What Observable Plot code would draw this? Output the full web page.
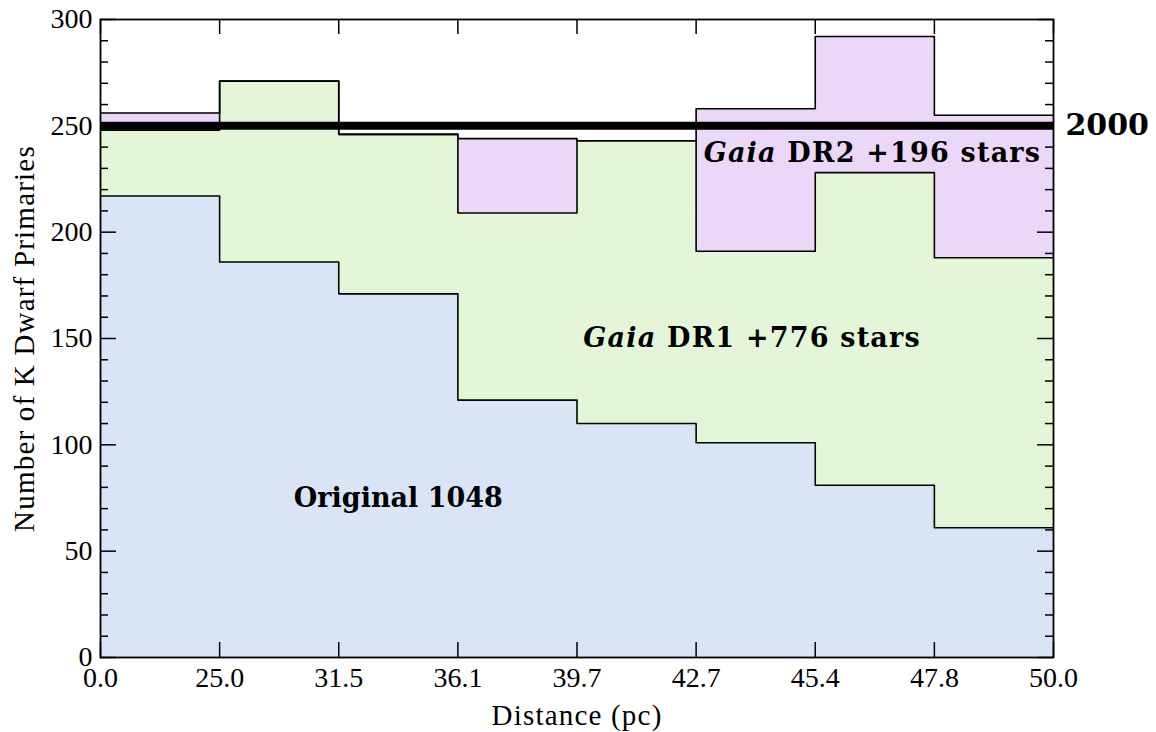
<!DOCTYPE html>
<html>
<head>
<meta charset="utf-8">
<script src="https://cdn.jsdelivr.net/npm/d3@7"></script>
<script src="https://cdn.jsdelivr.net/npm/@observablehq/plot@0.6"></script>
<style>
  body { margin: 0; background: #fff; }
  #chart svg { display: block; }
</style>
</head>
<body>
<div id="chart"></div>
<script>
// Distance bin edges (pc); bins are drawn with equal widths
const edgeLabels = ["0.0", "25.0", "31.5", "36.1", "39.7", "42.7", "45.4", "47.8", "50.0"];

// K dwarf primaries per distance bin
const original = [217, 186, 171, 121, 110, 101, 81, 61];
const gaiaDR1  = [31, 85, 75, 88, 133, 90, 147, 127];
const gaiaDR2  = [8, 0, 0, 35, 0, 67, 64, 67];

// Goal sample size (spread evenly over the bins)
const targetTotal = 2000;

const yTicks = [0, 50, 100, 150, 200, 250, 300];
const yMinorStep = 10;

const xTitle = "Distance (pc)";
const yTitle = "Number of K Dwarf Primaries";
const annotations = [
  {text: "Original 1048", x: 2.5, y: 75},
  {text: "Gaia DR1 +776 stars", x: 5.47, y: 150},
  {text: "Gaia DR2 +196 stars", x: 6.48, y: 237}
];

const nBins = original.length;
const cumDR1 = original.map((v, i) => v + gaiaDR1[i]);
const cumDR2 = cumDR1.map((v, i) => v + gaiaDR2[i]);
const zeros = original.map(() => 0);

// Step outline points for a layer between lower and upper (step-after curve)
function steps(lower, upper) {
  const pts = upper.map((u, i) => ({x: i, y1: lower[i], y2: u}));
  pts.push({x: upper.length, y1: lower[lower.length - 1], y2: upper[upper.length - 1]});
  return pts;
}

// Pick the first installed font from a list (canvas width test)
function firstInstalled(candidates) {
  const ctx = document.createElement("canvas").getContext("2d");
  const sample = "Number of K Dwarf 0123456789";
  for (const name of candidates) {
    for (const base of ["monospace", "sans-serif"]) {
      ctx.font = `40px ${base}`;
      const w0 = ctx.measureText(sample).width;
      ctx.font = `40px "${name}", ${base}`;
      if (Math.abs(ctx.measureText(sample).width - w0) > 0.5) return name;
    }
  }
  return null;
}

const timesLike = firstInstalled(["Liberation Serif", "Times New Roman", "Tinos", "Nimbus Roman", "FreeSerif", "Times"]);
const serif = timesLike ? `"${timesLike}", serif` : `"DejaVu Serif", serif`;
const tickSize = timesLike ? 28 : 24;
const titleSize = timesLike ? 29 : 25;
const titleSpacing = timesLike ? "1.2px" : "0px";
const boldSerif = `"DejaVu Serif", serif`;

const W = 1156, H = 732;
const M = {top: 19, right: 103, bottom: 75, left: 100};
const frameW = W - M.left - M.right;
const frameH = H - M.top - M.bottom;
const ink = "#000";

const colors = {original: "#d8e5f7", dr1: "#e3f7d8", dr2: "#ebd8f8"};

const layers = [
  {pts: steps(zeros, original), fill: colors.original},
  {pts: steps(original, cumDR1), fill: colors.dr1},
  {pts: steps(cumDR1, cumDR2), fill: colors.dr2}
];

const yMinor = d3.range(0, 301, yMinorStep).filter(v => !yTicks.includes(v));
const xEdges = d3.range(nBins + 1);

const plot = Plot.plot({
  width: W,
  height: H,
  marginTop: M.top,
  marginRight: M.right,
  marginBottom: M.bottom,
  marginLeft: M.left,
  x: {domain: [0, nBins]},
  y: {domain: [0, 300]},
  style: {fontFamily: serif, fontSize: `${tickSize}px`, color: ink, background: "#fff", overflow: "visible"},
  marks: [
    // stacked filled layers
    ...layers.map(l => Plot.areaY(l.pts, {x: "x", y1: "y1", y2: "y2", curve: "step-after", fill: l.fill})),
    // step outlines on top of each layer
    ...layers.map(l => Plot.lineY(l.pts, {x: "x", y: "y2", curve: "step-after", stroke: ink, strokeWidth: 1.6})),
    // target line
    Plot.ruleY([targetTotal / nBins], {stroke: ink, strokeWidth: 8}),
    Plot.frame({stroke: ink, strokeWidth: 1.8}),
    // inward ticks on all four sides
    Plot.tickY(yTicks, {y: d => d, insetRight: frameW - 16, stroke: ink, strokeWidth: 1.5}),
    Plot.tickY(yTicks, {y: d => d, insetLeft: frameW - 16, stroke: ink, strokeWidth: 1.5}),
    Plot.tickY(yMinor, {y: d => d, insetRight: frameW - 8, stroke: ink, strokeWidth: 1.5}),
    Plot.tickY(yMinor, {y: d => d, insetLeft: frameW - 8, stroke: ink, strokeWidth: 1.5}),
    Plot.tickX(xEdges, {x: d => d, insetTop: frameH - 15, stroke: ink, strokeWidth: 1.5}),
    Plot.tickX(xEdges, {x: d => d, insetBottom: frameH - 15, stroke: ink, strokeWidth: 1.5}),
    // tick labels
    Plot.axisX({ticks: xEdges, tickFormat: i => edgeLabels[i], tickSize: 0, tickPadding: 10, fontSize: tickSize, fontFamily: serif, label: null}),
    Plot.axisY({ticks: yTicks, tickSize: 0, tickPadding: 8, fontSize: tickSize, fontFamily: serif, label: null}),
    // axis titles
    Plot.text([xTitle], {frameAnchor: "bottom", textAnchor: "middle", lineAnchor: "bottom", dy: 67, fontSize: titleSize, fontFamily: serif, fill: ink}),
    Plot.text([yTitle], {frameAnchor: "left", textAnchor: "middle", rotate: -90, lineAnchor: "bottom", dx: -67, fontSize: titleSize, fontFamily: serif, fill: ink}),
    // annotations
    Plot.text(annotations, {x: "x", y: "y", text: "text", lineAnchor: "middle", fontSize: 27, fontWeight: "bold", fontFamily: boldSerif, fill: ink}),
    Plot.text([String(targetTotal)], {x: nBins, y: targetTotal / nBins, dx: 12, textAnchor: "start", lineAnchor: "middle", fontSize: 30, fontWeight: "bold", fontFamily: boldSerif, fill: ink})
  ]
});

document.getElementById("chart").appendChild(plot);

// widen the axis titles a touch
d3.select(plot).selectAll("text").each(function () {
  const t = this.textContent;
  if (t === xTitle || t === yTitle) d3.select(this).attr("letter-spacing", titleSpacing);
});

// set "Gaia" in italics inside the annotation labels
d3.select(plot).selectAll("text").each(function () {
  const t = this.textContent;
  if (t.startsWith("Gaia ")) {
    const sel = d3.select(this);
    sel.attr("letter-spacing", "1.2px");
    sel.text(null);
    sel.append("tspan").attr("font-style", "italic").text("Gaia");
    sel.append("tspan").text(t.slice(4));
  }
});
</script>
</body>
</html>
